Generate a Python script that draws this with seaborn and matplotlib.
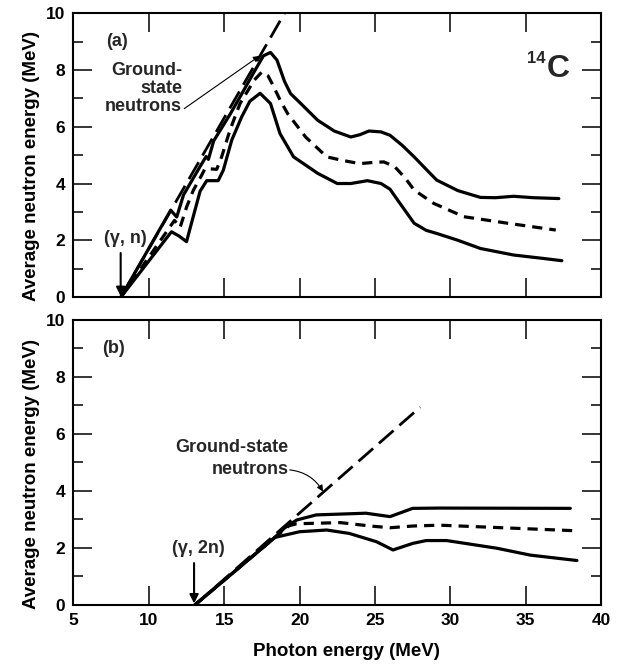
import numpy as np
import pandas as pd
import matplotlib
matplotlib.use("Agg")
import matplotlib.pyplot as plt
import seaborn as sns

# ---- (a) 14C(gamma, n): photon energy (MeV) vs average neutron energy (MeV)
upper_a_e = [8.15, 11.45, 11.85, 12.3, 13.4, 13.8, 13.95, 14.3, 15.4, 16.1, 17.0, 17.6,
             18.07, 18.5, 19.0, 19.4, 20.06, 21.2, 22.3, 23.4, 24.0, 24.6, 25.4, 26.0,
             26.8, 27.6, 28.4, 29.1, 30.5, 32.0, 33.0, 34.2, 35.5, 37.2]
upper_a_y = [0.0, 3.06, 2.82, 3.6, 4.6, 4.95, 4.85, 5.5, 6.45, 7.1, 7.95, 8.5,
             8.62, 8.35, 7.6, 7.17, 6.83, 6.23, 5.85, 5.64, 5.72, 5.85, 5.82, 5.7,
             5.35, 4.94, 4.5, 4.12, 3.75, 3.51, 3.5, 3.55, 3.5, 3.47]

mean_a_e = [8.15, 11.7, 12.07, 12.51, 12.95, 13.5, 13.73, 14.5, 14.83, 15.38, 16.05, 17.0,
            17.5, 17.9, 18.2, 18.7, 19.2, 20.4, 21.8, 22.8, 24.0, 25.0, 25.6, 26.3,
            27.0, 27.6, 28.9, 30.9, 33.8, 37.0]
mean_a_y = [0.0, 2.7, 2.45, 3.18, 3.76, 4.29, 4.53, 4.5, 4.94, 5.88, 6.82, 7.65,
            7.93, 7.8, 7.5, 6.95, 6.47, 5.64, 4.94, 4.82, 4.7, 4.75, 4.76, 4.6,
            4.2, 3.77, 3.3, 2.83, 2.6, 2.36]

lower_a_e = [8.15, 11.5, 12.0, 12.5, 12.75, 13.4, 13.84, 14.6, 14.94, 15.5, 16.16, 16.7,
             17.38, 18.07, 18.7, 19.6, 21.2, 22.5, 23.4, 24.5, 25.4, 26.0, 26.5, 27.6,
             28.4, 29.1, 30.5, 32.0, 34.2, 36.0, 37.4]
lower_a_y = [0.0, 2.3, 2.15, 1.95, 2.45, 3.73, 4.1, 4.1, 4.47, 5.53, 6.35, 6.9,
             7.18, 6.82, 5.76, 4.94, 4.36, 4.0, 4.0, 4.1, 4.0, 3.8, 3.42, 2.6,
             2.35, 2.24, 2.0, 1.71, 1.48, 1.37, 1.28]

ground_a_e = [8.15, 19.0]
ground_a_y = [0.0, 10.0]

# ---- (b) 14C(gamma, 2n)
upper_b_e = [13.05, 18.36, 19.0, 19.8, 21.1, 24.4, 26.0, 27.5, 29.3, 37.96]
upper_b_y = [0.0, 2.37, 2.7, 2.98, 3.16, 3.22, 3.1, 3.39, 3.4, 3.39]

mean_b_e = [13.05, 18.36, 19.3, 19.8, 22.7, 24.7, 26.0, 27.5, 29.3, 38.5]
mean_b_y = [0.0, 2.37, 2.78, 2.85, 2.89, 2.77, 2.71, 2.77, 2.8, 2.6]

lower_b_e = [13.05, 18.36, 20.0, 21.8, 23.3, 25.1, 26.2, 27.5, 28.4, 29.76, 33.1, 35.3, 38.4]
lower_b_y = [0.0, 2.37, 2.57, 2.63, 2.51, 2.22, 1.93, 2.16, 2.26, 2.26, 1.99, 1.75, 1.56]

ground_b_e = [13.05, 28.0]
ground_b_y = [0.0, 6.94]

x_ticks = [5, 10, 15, 20, 25, 30, 35, 40]
y_ticks = [0, 2, 4, 6, 8, 10]

sns.set_theme(style="ticks")
plt.rcParams["font.family"] = ["Liberation Sans", "DejaVu Sans"]
plt.rcParams["font.weight"] = "bold"

FS_TICK = 12.5
FS_LABEL = 13.5
FS_NOTE = 13

fig = plt.figure(figsize=(6.26, 6.64), dpi=100)
ax_a = fig.add_axes([0.1174, 0.5527, 0.8427, 0.4273])
ax_b = fig.add_axes([0.1174, 0.0889, 0.8427, 0.4292])

SOLID_LW = 2.3
MEAN_DASH = (3.2, 2.2)
GROUND_DASH = (7.0, 2.8)


def curve(ax, xs, ys, **kw):
    df = pd.DataFrame({"E": xs, "Y": ys})
    sns.lineplot(data=df, x="E", y="Y", sort=False, estimator=None, ax=ax,
                 color="black", solid_capstyle="round", solid_joinstyle="round",
                 legend=False, **kw)


def style_axes(ax):
    ax.set_xlim(5, 40)
    ax.set_ylim(0, 10)
    ax.set_xticks(x_ticks)
    ax.set_yticks(y_ticks)
    ax.yaxis.set_minor_locator(matplotlib.ticker.MultipleLocator(1))
    ax.tick_params(which="major", direction="in", top=True, right=True,
                   length=13.5, width=1.1, labelsize=FS_TICK, pad=6,
                   color="black", labelcolor="black")
    ax.tick_params(which="minor", direction="in", left=True, right=True,
                   length=7, width=1.1, color="black")
    for s in ax.spines.values():
        s.set_linewidth(1.5)
        s.set_color("black")
    ax.set_facecolor("white")
    ax.set_ylabel("Average neutron energy (MeV)", fontsize=FS_LABEL,
                  fontweight="bold", color="black", va="center")
    ax.yaxis.set_label_coords(-0.08, 0.46)
    for lab in ax.get_xticklabels() + ax.get_yticklabels():
        lab.set_fontweight("bold")


# ---- panel (a) curves
curve(ax_a, ground_a_e, ground_a_y, linewidth=2.0, linestyle=(0, GROUND_DASH))
curve(ax_a, upper_a_e, upper_a_y, linewidth=SOLID_LW)
curve(ax_a, mean_a_e, mean_a_y, linewidth=SOLID_LW, linestyle=(0, MEAN_DASH))
curve(ax_a, lower_a_e, lower_a_y, linewidth=SOLID_LW)
style_axes(ax_a)
ax_a.tick_params(labelbottom=False)
ax_a.set_xlabel("")

ax_a.text(7.87, 9.0, "(a)", fontsize=FS_NOTE, fontweight="bold", ha="center", va="center")
ax_a.text(12.2, 7.35, "Ground-\nstate\nneutrons", fontsize=FS_NOTE, fontweight="bold",
          ha="right", va="center", linespacing=1.05)
ax_a.annotate("", xy=(17.35, 8.5), xytext=(12.35, 6.64),
              arrowprops=dict(arrowstyle="-|>", lw=0.8, color="black",
                              mutation_scale=9, shrinkA=0, shrinkB=0))
ax_a.text(8.45, 2.07, "(γ, n)", fontsize=FS_NOTE, fontweight="bold",
          ha="center", va="center")
ax_a.annotate("", xy=(8.13, 0.03), xytext=(8.13, 1.55),
              arrowprops=dict(arrowstyle="-|>", lw=1.5, color="black",
                              mutation_scale=13, shrinkA=0, shrinkB=0))
ax_a.text(37.9, 8.05, "C", fontsize=23, fontweight="bold", ha="right", va="center")
ax_a.text(36.3, 8.24, "14", fontsize=12, fontweight="bold", ha="right", va="baseline")

# ---- panel (b) curves
curve(ax_b, ground_b_e, ground_b_y, linewidth=2.0, linestyle=(0, GROUND_DASH))
curve(ax_b, upper_b_e, upper_b_y, linewidth=SOLID_LW)
curve(ax_b, mean_b_e, mean_b_y, linewidth=SOLID_LW, linestyle=(0, MEAN_DASH))
curve(ax_b, lower_b_e, lower_b_y, linewidth=SOLID_LW)
style_axes(ax_b)
ax_b.set_xlabel("Photon energy (MeV)", fontsize=FS_LABEL, fontweight="bold",
                color="black", va="center")
ax_b.xaxis.set_label_coords(0.518, -0.164)

ax_b.text(7.63, 9.0, "(b)", fontsize=FS_NOTE, fontweight="bold", ha="center", va="center")
ax_b.text(19.25, 5.53, "Ground-state", fontsize=FS_NOTE, fontweight="bold",
          ha="right", va="center")
ax_b.text(19.25, 4.76, "neutrons", fontsize=FS_NOTE, fontweight="bold",
          ha="right", va="center")
ax_b.annotate("", xy=(21.55, 3.98), xytext=(19.35, 4.74),
              arrowprops=dict(arrowstyle="-|>", lw=0.8, color="black",
                              mutation_scale=9, shrinkA=0, shrinkB=0,
                              connectionstyle="arc3,rad=-0.25"))
ax_b.text(13.3, 1.99, "(γ, 2n)", fontsize=FS_NOTE, fontweight="bold",
          ha="center", va="center")
ax_b.annotate("", xy=(13.0, 0.05), xytext=(13.0, 1.47),
              arrowprops=dict(arrowstyle="-|>", lw=1.5, color="black",
                              mutation_scale=13, shrinkA=0, shrinkB=0))

fig.savefig("out.png", dpi=100, facecolor="white")
